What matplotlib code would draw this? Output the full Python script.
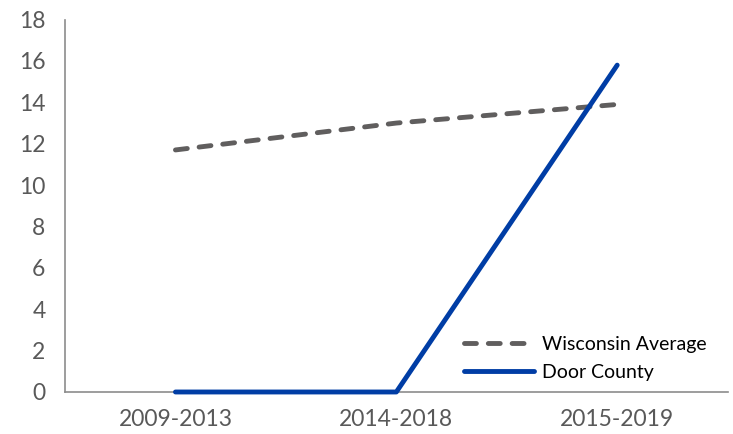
import matplotlib
matplotlib.use('Agg')
import matplotlib.pyplot as plt

periods = ['2009-2013', '2014-2018', '2015-2019']
wisconsin = [11.7, 13.0, 13.9]
door = [0, 0, 15.8]

plt.rcParams['font.family'] = ['Lato', 'DejaVu Sans']

fig = plt.figure(figsize=(7.33, 4.34), dpi=100)
ax = fig.add_axes([0.0887, 0.0968, 0.904, 0.858])

x = range(len(periods))
ax.plot(x, wisconsin, color='#605e5e', lw=3.5, dashes=(2.45, 2.45),
        dash_capstyle='round', label='Wisconsin Average', zorder=3)
ax.plot(x, door, color='#003da5', lw=3.5, solid_capstyle='round',
        label='Door County', clip_on=False, zorder=4)

ax.set_xlim(-0.5, 2.5)
ax.set_ylim(0, 18)
ax.set_yticks(range(0, 19, 2))
ax.set_xticks(list(x))
ax.set_xticklabels(periods)

for s in ['top', 'right']:
    ax.spines[s].set_visible(False)
for s in ['left', 'bottom']:
    ax.spines[s].set_color('#8c8c8c')
    ax.spines[s].set_linewidth(1.2)
ax.tick_params(length=0, labelsize=16.5, colors='#595959')
ax.tick_params(axis='y', pad=14)
ax.tick_params(axis='x', pad=12)

leg = ax.legend(loc='lower right', bbox_to_anchor=(0.995, -0.018), frameon=False,
                fontsize=14, handlelength=3.6, handletextpad=0.4,
                labelspacing=0.6)
for t in leg.get_texts():
    t.set_color('#000000')

fig.savefig('out.png', dpi=100)
